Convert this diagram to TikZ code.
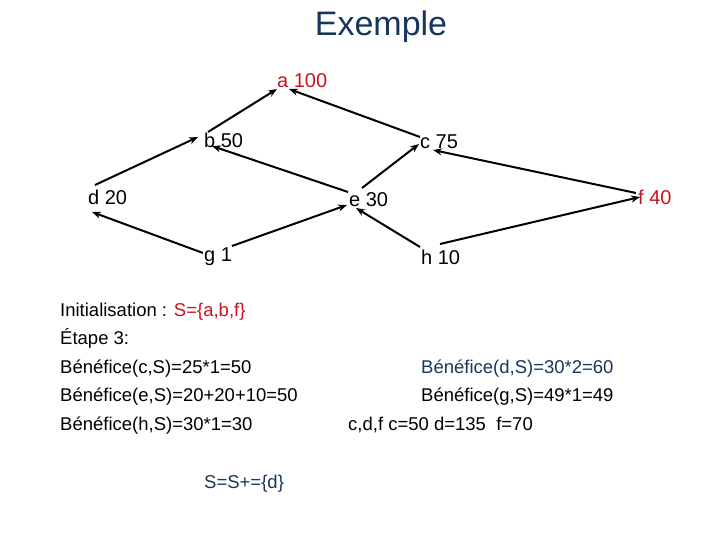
\documentclass[tikz,border=0pt]{standalone}
\usepackage{fontspec}
\setmainfont{Liberation Sans}
\usetikzlibrary{arrows.meta}
\definecolor{myred}{HTML}{C8141E}
\definecolor{myblue}{HTML}{17365D}
\tikzset{
  lbl/.style={anchor=west, inner sep=0pt, font=\fontsize{20}{24}\selectfont},
  txt/.style={anchor=base west, inner sep=0pt, font=\fontsize{18.5}{22}\selectfont},
  arr/.style={line width=2pt, -{Stealth[length=9pt,width=7pt]}}
}
\begin{document}
\begin{tikzpicture}[x=1pt,y=-1pt]
\useasboundingbox (0,0) rectangle (720,540);
% title
\node[anchor=base, inner sep=0pt, font=\fontsize{34}{40}\selectfont, text=myblue] (title) at (381,36) {Exemple};
% graph nodes
\node[lbl, text=myred] (a) at (277,81) {a 100};
\node[lbl] (b) at (204,140) {b 50};
\node[lbl] (c) at (420,142) {c 75};
\node[lbl] (d) at (88,197) {d 20};
\node[lbl] (e) at (349,200) {e 30};
\node[lbl, text=myred] (f) at (638,197) {f 40};
\node[lbl] (g) at (204,257) {g 1};
\node[lbl] (h) at (421,257) {h 10};
% edges
\draw[arr] ([shift={(4,-8)}]b.west) -- ([shift={(0,8)}]a.west);
\draw[arr] ([shift={(0,-5)}]c.west) -- ([shift={(12,8)}]a.west);
\draw[arr] ([shift={(7,-12)}]d.west) -- ([shift={(-6,-3)}]b.west);
\draw[arr] ([shift={(-1,-8)}]e.west) -- ([shift={(8,6)}]b.west);
\draw[arr] ([shift={(13,-12)}]e.west) -- ([shift={(-1,2)}]c.west);
\draw[arr] ([shift={(-2,-4)}]f.west) -- ([shift={(13,8)}]c.west);
\draw[arr] ([shift={(19,-13)}]h.west) -- ([shift={(2,0)}]f.west);
\draw[arr] ([shift={(-1,-4)}]g.west) -- ([shift={(4,15)}]d.west);
\draw[arr] ([shift={(28,-11)}]g.west) -- ([shift={(-2,5)}]e.west);
\draw[arr] ([shift={(-1,-10)}]h.west) -- ([shift={(7,8)}]e.west);
% text block
\node[txt] (t1) at (60,316) {Initialisation : \textcolor{myred}{S=\{a,b,f\}}};
\node[txt] (t2) at (60,344.5) {Étape 3:};
\node[txt] (t3) at (60,373) {Bénéfice(c,S)=25*1=50};
\node[txt] (t4) at (60,401.5) {Bénéfice(e,S)=20+20+10=50};
\node[txt] (t5) at (60,430) {Bénéfice(h,S)=30*1=30};
\node[txt, text=myblue] (t6) at (421,373) {Bénéfice(d,S)=30*2=60};
\node[txt] (t7) at (421,401.5) {Bénéfice(g,S)=49*1=49};
\node[txt] (t8) at (348,430) {c,d,f c=50 d=135\ \ f=70};
\node[txt, text=myblue] (t9) at (204,488) {S=S+=\{d\}};
\end{tikzpicture}
\end{document}
